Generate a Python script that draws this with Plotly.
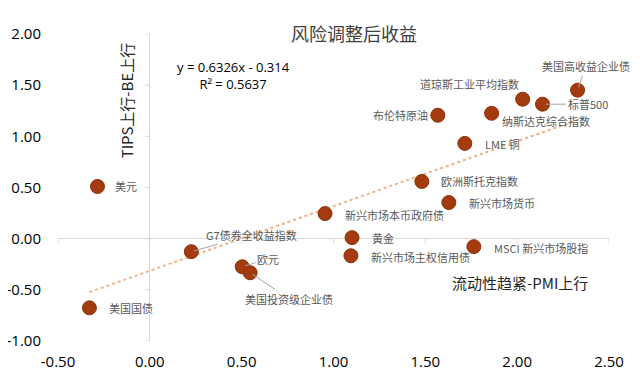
import plotly.graph_objects as go

# ---------------- data ----------------
names = ["美元", "美国国债", "G7债券全收益指数", "欧元", "美国投资级企业债",
         "新兴市场本币政府债", "黄金", "新兴市场主权信用债", "新兴市场货币",
         "MSCI 新兴市场股指", "欧洲斯托克指数", "LME 铜", "布伦特原油",
         "纳斯达克综合指数", "道琼斯工业平均指数", "标普500", "美国高收益企业债"]
x_vals = [-0.285, -0.329, 0.226, 0.503, 0.546,
          0.954, 1.101, 1.095, 1.628,
          1.764, 1.481, 1.715, 1.568,
          1.861, 2.030, 2.138, 2.329]
y_vals = [0.51, -0.676, -0.127, -0.275, -0.333,
          0.245, 0.01, -0.167, 0.353,
          -0.078, 0.559, 0.931, 1.206,
          1.225, 1.363, 1.314, 1.451]
slope = 0.6326
intercept = -0.314
r2 = 0.5637
x_ticks = [-0.5, 0.0, 0.5, 1.0, 1.5, 2.0, 2.5]
x_tick_labels = ["-0.50", "0.00", "0.50", "1.00", "1.50", "2.00", "2.50"]
y_ticks = [-1.0, -0.5, 0.0, 0.5, 1.0, 1.5, 2.0]
y_tick_labels = ["-1.00", "-0.50", "0.00", "0.50", "1.00", "1.50", "2.00"]

title_text = "风险调整后收益"
x_title = "流动性趋紧-PMI上行"
y_title = "TIPS上行-BE上行"

# label placement styles (pixel offsets)
label_style = {
    "美元": dict(kind="left", dx=16, dy=0),
    "美国国债": dict(kind="left", dx=18, dy=0),
    "G7债券全收益指数": dict(kind="arrow", ax=60, ay=-17),
    "欧元": dict(kind="arrow", ax=26, ay=-8),
    "美国投资级企业债": dict(kind="arrow", ax=39, ay=26),
    "新兴市场本币政府债": dict(kind="left", dx=18, dy=-1),
    "黄金": dict(kind="left", dx=18, dy=0),
    "新兴市场主权信用债": dict(kind="left", dx=18, dy=-1),
    "新兴市场货币": dict(kind="left", dx=18, dy=0),
    "MSCI 新兴市场股指": dict(kind="left", dx=18, dy=-1),
    "欧洲斯托克指数": dict(kind="left", dx=17, dy=0),
    "LME 铜": dict(kind="left", dx=18, dy=-1),
    "布伦特原油": dict(kind="right", dx=-8, dy=0),
    "纳斯达克综合指数": dict(kind="left", dx=8, dy=-8),
    "道琼斯工业平均指数": dict(kind="center", dx=-53, dy=15),
    "标普500": dict(kind="arrow", ax=45, ay=0),
    "美国高收益企业债": dict(kind="arrow", ax=8, ay=-24),
}

FONT = "Open Sans, Noto Sans CJK SC, sans-serif"
CJK = "Noto Sans CJK SC, Open Sans, sans-serif"
MARKER = "#A33B0E"
LABEL_COLOR = "#595959"
AXIS_GRAY = "#D9D9D9"

fig = go.Figure()

# trendline
x_min, x_max = min(x_vals), max(x_vals)
fig.add_trace(go.Scatter(
    x=[x_min, x_max], y=[slope * x_min + intercept, slope * x_max + intercept],
    mode="lines", line=dict(color="#F4B183", width=2, dash="dot"),
    hoverinfo="skip", showlegend=False))

# points
fig.add_trace(go.Scatter(
    x=x_vals, y=y_vals, mode="markers", text=names,
    marker=dict(size=14, color=MARKER, line=dict(color="#8E3209", width=1)),
    showlegend=False))

annotations = []
for n, xv, yv in zip(names, x_vals, y_vals):
    s = label_style[n]
    common = dict(x=xv, y=yv, xref="x", yref="y", text=n,
                  font=dict(family=CJK, size=11, color=LABEL_COLOR))
    if s["kind"] == "arrow":
        annotations.append(dict(**common, showarrow=True, arrowhead=0,
                                arrowwidth=1, arrowcolor="#A6A6A6",
                                ax=s["ax"], ay=s["ay"], standoff=3))
    else:
        annotations.append(dict(**common, showarrow=False, xanchor=s["kind"],
                                yanchor="middle", xshift=s["dx"], yshift=s["dy"]))

# texts
annotations.append(dict(x=0.537, y=1.003, xref="paper", yref="paper",
                        text=title_text, showarrow=False, xanchor="center",
                        yanchor="middle",
                        font=dict(family=CJK, size=18, color="#404040")))
annotations.append(dict(x=0.319, y=0.865, xref="paper", yref="paper",
                        text=f"y = {slope}x - {abs(intercept)}<br>R² = {r2}",
                        showarrow=False, xanchor="center", yanchor="middle",
                        align="center",
                        font=dict(family=FONT, size=13, color="#000000")))
annotations.append(dict(x=0.124, y=0.785, xref="paper", yref="paper",
                        text=y_title, showarrow=False, textangle=-90,
                        xanchor="center", yanchor="middle",
                        font=dict(family=CJK, size=15, color="#262626")))
annotations.append(dict(x=0.839, y=0.190, xref="paper", yref="paper",
                        text=x_title, showarrow=False,
                        xanchor="center", yanchor="middle",
                        font=dict(family=CJK, size=15, color="#262626")))

# small tick marks along the zero axes
shapes = []
for yt in y_ticks:
    shapes.append(dict(type="line", xref="x", yref="y", xsizemode="pixel",
                       xanchor=0, x0=-5, x1=0, y0=yt, y1=yt,
                       line=dict(color=AXIS_GRAY, width=1)))
for xt in x_ticks:
    shapes.append(dict(type="line", xref="x", yref="y", ysizemode="pixel",
                       yanchor=0, y0=-5, y1=0, x0=xt, x1=xt,
                       line=dict(color=AXIS_GRAY, width=1)))

# page body has an 8px default margin, so the figure is 632x371
fig.update_layout(
    width=632, height=371,
    margin=dict(l=49.5, r=30.5, t=26, b=37.5),
    plot_bgcolor="white", paper_bgcolor="white",
    annotations=annotations, shapes=shapes,
    font=dict(family=FONT, color="#000000"),
    xaxis=dict(range=[-0.5, 2.5], tickvals=x_ticks, ticktext=x_tick_labels,
               showgrid=False, zeroline=True, zerolinecolor=AXIS_GRAY,
               zerolinewidth=1, showline=False, ticks="", automargin=False,
               tickfont=dict(family=FONT, size=15, color="#000000"),
               ticklabelstandoff=10),
    yaxis=dict(range=[-1.0, 2.0], tickvals=y_ticks, ticktext=y_tick_labels,
               showgrid=False, zeroline=True, zerolinecolor=AXIS_GRAY,
               zerolinewidth=1, showline=False, ticks="", automargin=False,
               tickfont=dict(family=FONT, size=15, color="#000000"),
               ticklabelstandoff=16),
)

fig.write_html("out.html")
